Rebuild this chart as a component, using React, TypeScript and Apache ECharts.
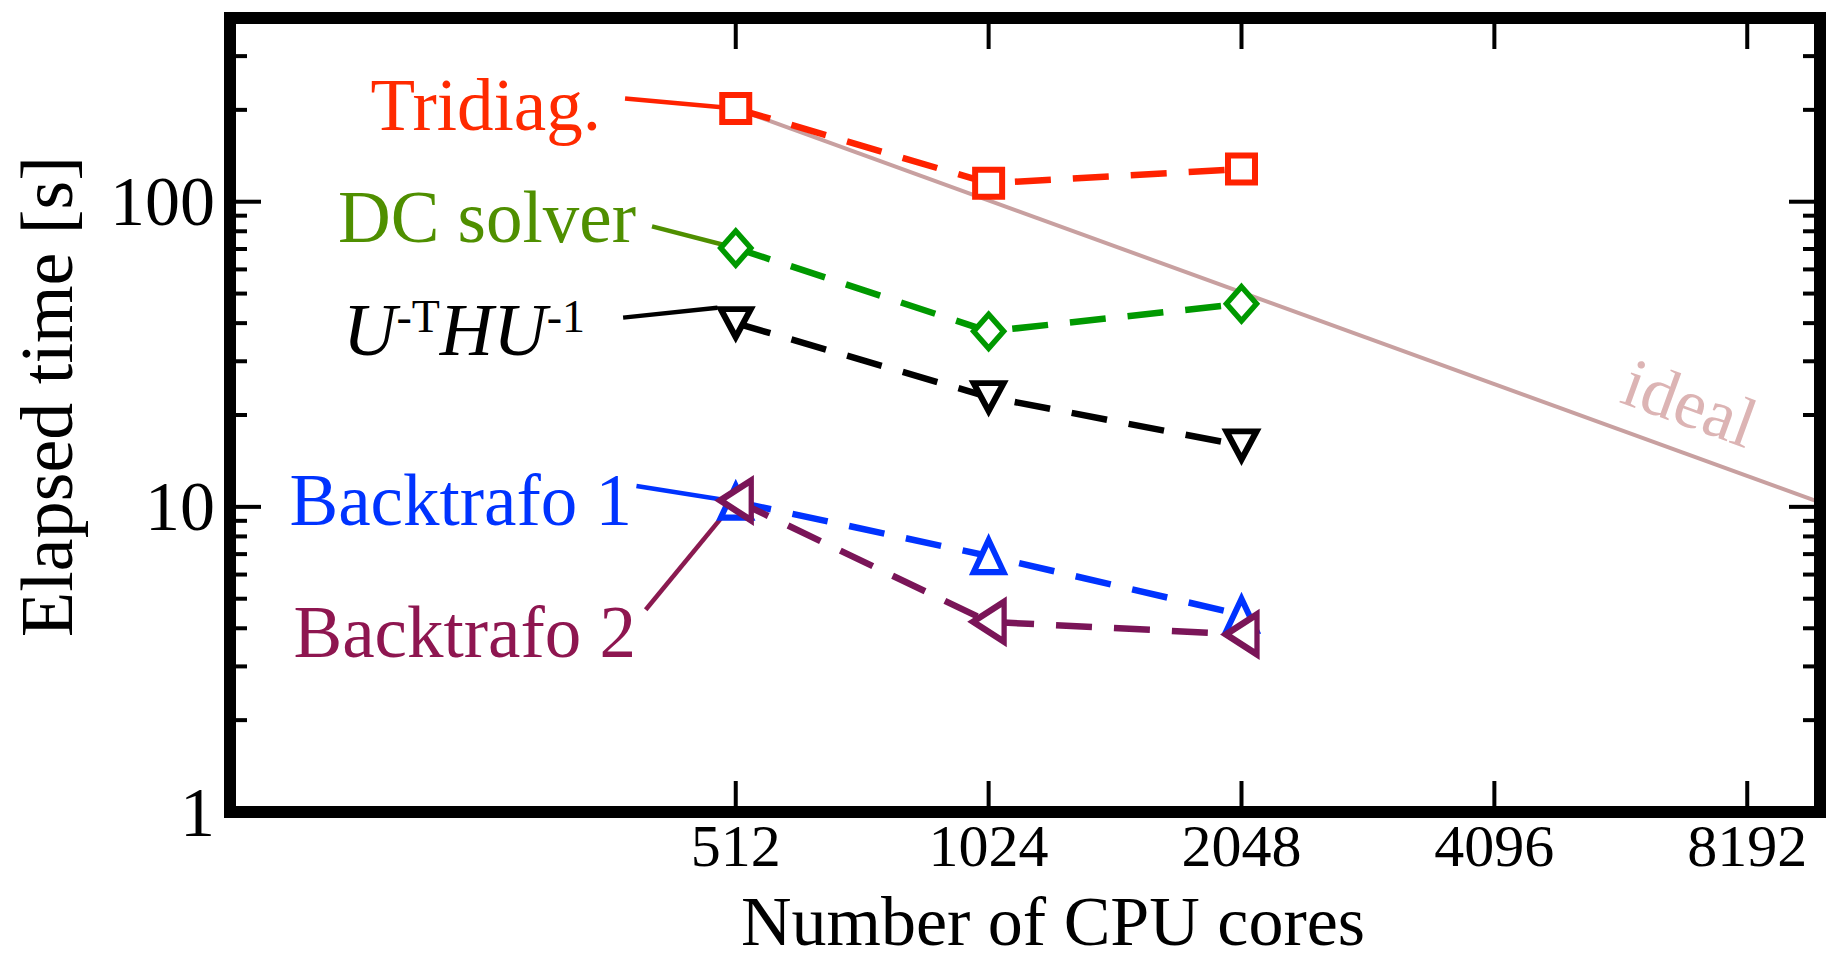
import React, { useEffect, useRef } from 'react';
import * as echarts from 'echarts';

// ---- data ----
const cores = [512, 1024, 2048];
const tridiag = [202, 115, 128];
const dcSolver = [70.5, 37.6, 46.3];
const uthu = [40, 22.9, 15.9];
const backtrafo1 = [10.4, 6.9, 4.43];
const backtrafo2 = [10.5, 4.2, 3.82];
const idealCores = [512, 10000];
const idealTimes = [202, 10.34];

// ---- axes ----
const xRange = [128, 10000];
const yRange = [1, 400];
const xTickValues = [512, 1024, 2048, 4096, 8192];
const yMajorTicks = [1, 10, 100];
const yMinorTicks = [2, 3, 4, 5, 6, 7, 8, 9, 20, 30, 40, 50, 60, 70, 80, 90, 200, 300];

// ---- label connectors (data coordinates: label end -> point) ----
const connTridiag = [[378, 218], [512, 202]];
const connDC = [[407, 83], [512, 70.5]];
const connUTHU = [[376, 41.7], [487, 44.9]];
const connBack1 = [[390, 11.7], [512, 10.4]];
const connBack2 = [[400, 4.6], [512, 10.5]];

const FONT = "'Liberation Serif', 'Times New Roman', Times, serif";

const C_RED = '#ff2200';
const C_GREEN = '#009900';
const C_GREEN_TXT = '#4f8f00';
const C_BLACK = '#000000';
const C_BLUE = '#0033ff';
const C_PURPLE = '#7a1558';
const C_PURPLE_TXT = '#8e1650';
const C_IDEAL = '#c8a0a0';
const C_IDEAL_TXT = '#dcb4b4';

const pts = (xs: number[], ys: number[]) => xs.map((x, i) => [x, ys[i]]);

const frameLine = { onZero: false, lineStyle: { color: '#000', width: 12, cap: 'square' } };

function dataSeries(name: string, ys: number[], color: string, symbol: string, size: any, rotate: number, bw: number) {
  return {
    type: 'line',
    name,
    data: pts(cores, ys),
    symbol,
    symbolSize: size,
    symbolRotate: rotate,
    showSymbol: true,
    silent: true,
    z: 3,
    itemStyle: { color: '#ffffff', borderColor: color, borderWidth: bw },
    lineStyle: { color, width: 6.5, type: [36, 22] },
    emphasis: { disabled: true },
  };
}

function connector(data: number[][], color: string) {
  return {
    type: 'line',
    data,
    symbol: 'none',
    silent: true,
    z: 2,
    lineStyle: { color, width: 4.5, type: 'solid' },
    emphasis: { disabled: true },
  };
}

function txt(x: number, y: number, text: string, fill: string, size: number, extra: any = {}) {
  const { align, lineHeight, ...rest } = extra;
  return {
    type: 'text',
    x,
    y,
    silent: true,
    z: 10,
    ...rest,
    style: {
      text,
      fill,
      fontSize: size,
      fontFamily: FONT,
      lineHeight: lineHeight || size,
      align: align || 'right',
      textAlign: align || 'right',
      verticalAlign: 'middle',
      textVerticalAlign: 'middle',
    },
  };
}

export default function App() {
  const ref = useRef<HTMLDivElement>(null);

  useEffect(() => {
    if (!ref.current) return;
    const chart = echarts.init(ref.current, null, { renderer: 'svg' });

    const xFmt = (v: number) => {
      const r = Math.round(v);
      return xTickValues.includes(r) ? String(r) : '';
    };
    const yFmt = (v: number) => {
      const r = Math.round(v);
      return yMajorTicks.includes(r) ? String(r) : '';
    };

    const option: any = {
      animation: false,
      backgroundColor: '#ffffff',
      grid: { left: 230, right: 14, top: 18, bottom: 147 },
      xAxis: [
        {
          type: 'log', logBase: 2, min: xRange[0], max: xRange[1], position: 'bottom', z: 5,
          axisLine: frameLine, axisTick: { show: false }, splitLine: { show: false },
          axisLabel: { formatter: xFmt, fontSize: 60, lineHeight: 60, fontFamily: FONT, color: '#000', margin: 4 },
        },
        {
          type: 'log', logBase: 2, min: xRange[0], max: xRange[1], position: 'top', z: 5,
          axisLine: frameLine, axisTick: { show: false }, splitLine: { show: false },
          axisLabel: { show: false },
        },
      ],
      yAxis: [
        {
          type: 'log', logBase: 10, min: yRange[0], max: yRange[1], position: 'left', z: 5,
          axisLine: frameLine, axisTick: { show: false }, splitLine: { show: false },
          axisLabel: { formatter: yFmt, fontSize: 70, fontFamily: FONT, color: '#000', margin: 15 },
        },
        {
          type: 'log', logBase: 10, min: yRange[0], max: yRange[1], position: 'right', z: 5,
          axisLine: frameLine, axisTick: { show: false }, splitLine: { show: false },
          axisLabel: { show: false },
        },
      ],
      series: [
        {
          type: 'line', name: 'ideal', data: pts(idealCores, idealTimes), symbol: 'none', silent: true, z: 2,
          lineStyle: { color: C_IDEAL, width: 4 }, emphasis: { disabled: true },
        },
        connector(connTridiag, C_RED),
        connector(connDC, C_GREEN_TXT),
        connector(connUTHU, C_BLACK),
        connector(connBack1, C_BLUE),
        connector(connBack2, '#8a1a50'),
        dataSeries('Tridiag.', tridiag, C_RED, 'rect', 27, 0, 6),
        dataSeries('DC solver', dcSolver, C_GREEN, 'diamond', [30, 34], 0, 5.5),
        dataSeries('U-THU-1', uthu, C_BLACK, 'triangle', [30, 28], 180, 6),
        dataSeries('Backtrafo 1', backtrafo1, C_BLUE, 'triangle', [30, 32], 0, 6),
        dataSeries('Backtrafo 2', backtrafo2, C_PURPLE, 'triangle', [40, 31], 90, 6),
      ],
      graphic: [
        txt(601, 105.5, 'Tridiag.', '#ff2a00', 73),
        txt(636, 217.5, 'DC solver', C_GREEN_TXT, 73),
        {
          type: 'text', x: 585, y: 330, silent: true, z: 10,
          style: {
            text: '{it|U}{sup|-T}{it|HU}{sup|-1}',
            fill: '#000', fontFamily: FONT, fontSize: 74,
            align: 'right', textAlign: 'right', verticalAlign: 'middle', textVerticalAlign: 'middle',
            rich: {
              it: { fontStyle: 'italic', fontSize: 74, lineHeight: 74, fontFamily: FONT, fill: '#000', color: '#000' },
              sup: { fontSize: 46, lineHeight: 60, verticalAlign: 'top', fontFamily: FONT, fill: '#000', color: '#000' },
            },
          },
        },
        txt(632, 500.5, 'Backtrafo 1', C_BLUE, 73),
        txt(636, 632.5, 'Backtrafo 2', C_PURPLE_TXT, 73),
        txt(1690, 403, 'ideal', C_IDEAL_TXT, 70, { align: 'center', rotation: (-20 * Math.PI) / 180 }),
        txt(1053, 921, 'Number of CPU cores', '#000', 70, { align: 'center', lineHeight: 56 }),
        txt(47, 396.5, 'Elapsed time [s]', '#000', 74, { align: 'center', rotation: Math.PI / 2 }),
      ],
    };

    chart.setOption(option);

    // ticks (inward), positioned through the axes' own scales
    const toPx = (x: number, y: number) => chart.convertToPixel({ xAxisIndex: 0, yAxisIndex: 0 }, [x, y]) as number[];
    const [xl, yb] = toPx(xRange[0], yRange[0]);
    const [xr, yt] = toPx(xRange[1], yRange[1]);
    const MAJ = 31;
    const MIN = 17;
    const tick = (x1: number, y1: number, x2: number, y2: number) => ({
      type: 'line', silent: true, z: 6,
      shape: { x1, y1, x2, y2 },
      style: { stroke: '#000', lineWidth: 4 },
    });
    const ticks: any[] = [];
    xTickValues.forEach((v) => {
      const px = toPx(v, yRange[0])[0];
      ticks.push(tick(px, yb, px, yb - MAJ));
      ticks.push(tick(px, yt, px, yt + MAJ));
    });
    yMajorTicks.forEach((v) => {
      const py = toPx(xRange[0], v)[1];
      ticks.push(tick(xl, py, xl + MAJ, py));
      ticks.push(tick(xr, py, xr - MAJ, py));
    });
    yMinorTicks.forEach((v) => {
      const py = toPx(xRange[0], v)[1];
      ticks.push(tick(xl, py, xl + MIN, py));
      ticks.push(tick(xr, py, xr - MIN, py));
    });
    chart.setOption({ graphic: [...option.graphic, ...ticks] }, { replaceMerge: ['graphic'] });

    return () => chart.dispose();
  }, []);

  return (
    <div
      ref={ref}
      style={{ position: 'fixed', left: 0, top: 0, width: 1834, height: 959, background: '#fff' }}
    />
  );
}
